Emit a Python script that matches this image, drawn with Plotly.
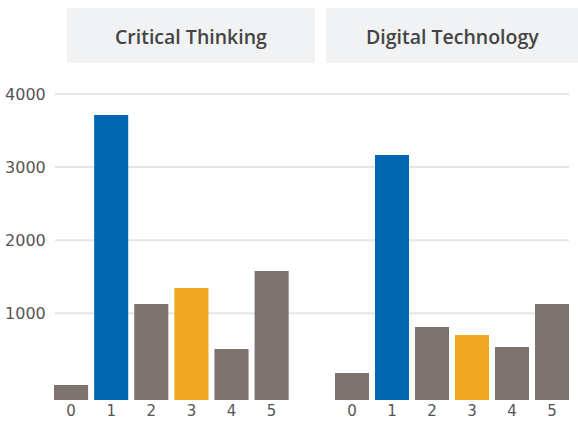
import plotly.graph_objects as go

W, H = 578, 425

categories = ["0", "1", "2", "3", "4", "5"]
panels = ["Critical Thinking", "Digital Technology"]
critical_thinking = [20, 3713, 1127, 1346, 512, 1579]
digital_technology = [183, 3166, 813, 703, 539, 1127]
ytick_vals = [1000, 2000, 3000, 4000]
ytick_text = ["1000", "2000", "3000", "4000"]

GRAY = "#7d736e"
BLUE = "#0068b3"
ORANGE = "#efa822"
bar_colors = [GRAY, BLUE, GRAY, ORANGE, GRAY, GRAY]

Y_MIN, Y_MAX = -186, 4200
TICK_FONT = "DejaVu Sans"
HEAD_FONT = "Open Sans"

def px_x(p):
    return p / W

def px_y(p):
    return 1 - p / H

fig = go.Figure()
for i, vals in enumerate([critical_thinking, digital_technology]):
    ax = "" if i == 0 else "2"
    fig.add_trace(go.Bar(
        x=categories,
        y=[v - Y_MIN for v in vals],
        base=Y_MIN,
        marker=dict(color=bar_colors, line=dict(width=0)),
        xaxis="x" + ax, yaxis="y" + ax,
        showlegend=False,
        hoverinfo="skip",
    ))

tickfont = dict(family=TICK_FONT, size=16, color="#555555")
xtickfont = dict(family=TICK_FONT, size=15, color="#555555")
common_x = dict(type="category", range=[-0.5, 5.5], showgrid=False, zeroline=False,
                showline=False, ticks="", ticklen=0,
                tickfont=xtickfont, fixedrange=True, automargin=False)
common_y = dict(range=[Y_MIN, Y_MAX], domain=[px_y(400), px_y(79.4)], showgrid=False,
                zeroline=False, showline=False, tickvals=ytick_vals, fixedrange=True,
                automargin=False)

fig.update_layout(
    width=W, height=H,
    margin=dict(l=0, r=0, t=0, b=0),
    paper_bgcolor="white", plot_bgcolor="rgba(0,0,0,0)",
    bargap=0.15,
    xaxis=dict(domain=[px_x(51), px_x(291.7)], **common_x),
    xaxis2=dict(domain=[px_x(332), px_x(572)], **common_x),
    yaxis=dict(anchor="x", ticktext=ytick_text, tickfont=tickfont, ticks="outside",
               ticklen=1, tickcolor="rgba(0,0,0,0)", **common_y),
    yaxis2=dict(anchor="x2", showticklabels=False, matches="y", **common_y),
)

shapes = []
for v in ytick_vals:
    shapes.append(dict(type="line", xref="paper", yref="y", x0=px_x(55), x1=px_x(569),
                       y0=v, y1=v, line=dict(color="#e6e6e6", width=2), layer="below"))
header_boxes = [(67, 315), (326, 578)]
annotations = []
for (x0, x1), name in zip(header_boxes, panels):
    shapes.append(dict(type="rect", xref="paper", yref="paper", x0=px_x(x0), x1=px_x(x1),
                       y0=px_y(62.7), y1=px_y(8), fillcolor="#f1f2f4", line=dict(width=0),
                       layer="below"))
    annotations.append(dict(text=name, xref="paper", yref="paper", x=px_x((x0 + x1) / 2),
                            y=px_y(36), xanchor="center", yanchor="middle", showarrow=False,
                            font=dict(family=HEAD_FONT, size=19.5, color="#444444", weight=600)))
fig.update_layout(shapes=shapes, annotations=annotations)

post = "document.body.style.margin='0';document.body.style.padding='0';"
fig.write_html("out.html", post_script=post, config={"displayModeBar": False})
